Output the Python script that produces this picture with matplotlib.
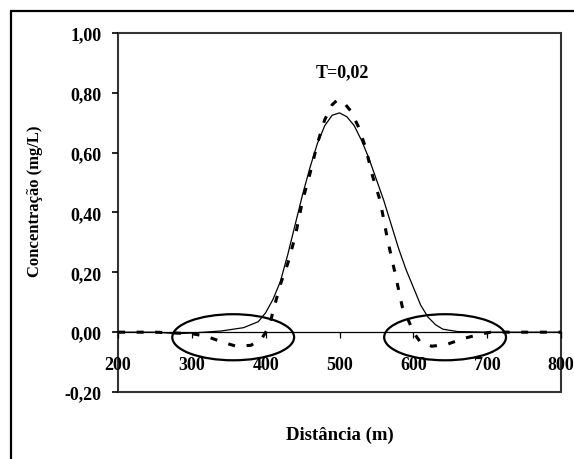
import matplotlib
matplotlib.use("Agg")
import matplotlib.pyplot as plt
import matplotlib.ticker
from matplotlib.patches import Ellipse, Rectangle

# Solid curve (analytic) and dashed curve (numeric), T=0,02
solid_x = [200, 250, 280, 300, 340, 370, 390, 400, 410, 420, 430, 440, 450, 460,
           470, 480, 490, 500, 510, 520, 530, 540, 550, 560, 570, 580, 590, 600,
           610, 620, 630, 640, 660, 700, 800]
solid_y = [0, 0, -0.005, -0.003, 0.004, 0.015, 0.035, 0.065, 0.11, 0.17, 0.26,
           0.36, 0.46, 0.55, 0.63, 0.69, 0.725, 0.733, 0.72, 0.69, 0.64, 0.58,
           0.51, 0.44, 0.36, 0.28, 0.21, 0.15, 0.09, 0.05, 0.025, 0.01, 0.002, 0, 0]

dash_x = [200, 250, 300, 320, 340, 360, 380, 395, 405, 410, 420, 430, 440, 450,
          460, 470, 480, 490, 497, 505, 515, 525, 535, 545, 555, 565, 575, 585,
          595, 600, 610, 625, 645, 670, 690, 705, 750, 800]
dash_y = [0, 0, -0.005, -0.014, -0.032, -0.047, -0.044, -0.02, 0.02, 0.07, 0.16,
          0.23, 0.32, 0.44, 0.53, 0.63, 0.71, 0.76, 0.776, 0.77, 0.74, 0.69, 0.62,
          0.52, 0.44, 0.31, 0.2, 0.085, 0.03, 0.0, -0.035, -0.047, -0.041, -0.02,
          -0.007, 0, 0, 0]

# highlighted regions (center x, center y, width, height)
ellipse_cx = [356, 643]
ellipse_cy = [-0.017, -0.017]
ellipse_w = [165, 165]
ellipse_h = [0.154, 0.154]

x_ticks = [200, 300, 400, 500, 600, 700, 800]
y_ticks = [-0.2, 0.0, 0.2, 0.4, 0.6, 0.8, 1.0]

plt.rcParams["font.family"] = ["Liberation Serif", "DejaVu Serif"]
plt.rcParams["font.weight"] = "bold"

W, H = 574, 460
fig = plt.figure(figsize=(W / 100, H / 100), dpi=100)
fig.patch.set_facecolor("white")

# outer chart frame
fig.patches.append(Rectangle((11 / W, -0.1), 1.2, 1 - 12 / H + 0.1,
                             transform=fig.transFigure, fill=False,
                             edgecolor="black", linewidth=1.6))

ax = fig.add_axes([118 / W, 1 - 393 / H, (561 - 118) / W, (393 - 34) / H])

ax.plot(solid_x, solid_y, color="black", linewidth=0.9)
ax.plot(dash_x, dash_y, color="black", linewidth=2.2, dashes=(2.3, 3.8))

for cx, cy, w, h in zip(ellipse_cx, ellipse_cy, ellipse_w, ellipse_h):
    ax.add_patch(Ellipse((cx, cy), w, h, fill=False, edgecolor="black",
                         linewidth=1.6, clip_on=False))

ax.set_xlim(200, 800)
ax.set_ylim(-0.2, 1.0)

for s in ["top", "right", "left"]:
    ax.spines[s].set_visible(False)
ax.spines["bottom"].set_position(("data", 0))
ax.spines["bottom"].set_linewidth(0.9)
ax.add_patch(Rectangle((0, 0), 1, 1, transform=ax.transAxes, fill=False,
                       edgecolor="#333333", linewidth=1.5, clip_on=False))

ax.xaxis.set_major_locator(matplotlib.ticker.FixedLocator(x_ticks))
ax.yaxis.set_major_locator(matplotlib.ticker.FixedLocator(y_ticks))
ax.yaxis.set_major_formatter(matplotlib.ticker.FuncFormatter(
    lambda v, p: ("%.2f" % v).replace(".", ",").replace("-0,00", "0,00")))
ax.tick_params(axis="x", direction="out", length=4.3, width=0.9, pad=13,
               labelsize=13)
ax.tick_params(axis="y", direction="out", length=4, width=1.2, pad=8,
               labelsize=13)

ax.text(504, 0.87, "T=0,02", ha="center", va="center", fontsize=13,
        fontweight="bold")

fig.text(339.5 / W, 1 - 435 / H, "Distância (m)", ha="center", va="center",
         fontsize=13.5, fontweight="bold")
fig.text(35 / W, 1 - 201 / H, "Concentração (mg/L)", ha="center", va="center",
         rotation=90, fontsize=12, fontweight="bold")

fig.savefig("out.png", dpi=100)
